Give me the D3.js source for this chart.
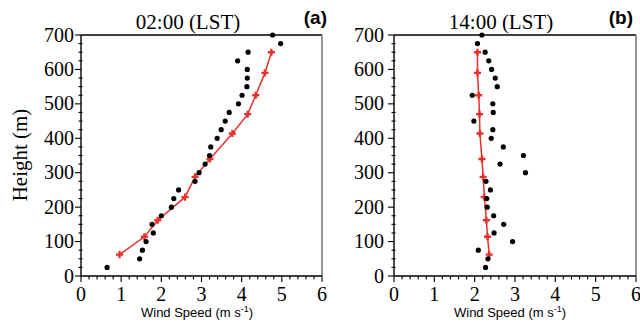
<!DOCTYPE html>
<html>
<head>
<meta charset="utf-8">
<script src="https://cdn.jsdelivr.net/npm/d3@7"></script>
<style>
  body { margin: 0; background: #fff; }
  svg { display: block; }
</style>
</head>
<body>
<div id="chart"></div>
<script>
// observed heights (m), every 25 m
var obsHeights = [25, 50, 75, 100, 125, 150, 175, 200, 225, 250, 275, 300, 325, 350,
	375, 400, 425, 450, 475, 500, 525, 550, 575, 600, 625, 650, 675, 700];
// observed wind speed 02:00
var obsA = [0.65, 1.46, 1.53, 1.62, 1.80, 1.77, 2.00, 2.25, 2.31, 2.43, 2.84, 2.94, 3.09, 3.20,
	3.23, 3.39, 3.49, 3.59, 3.69, 3.92, 4.01, 4.13, 4.14, 4.14, 3.90, 4.16, 4.97, 4.77];
// observed wind speed 14:00
var obsB = [2.27, 2.33, 2.09, 2.94, 2.48, 2.72, 2.47, 2.31, 2.30, 2.39, 2.28, 3.26, 2.63, 3.21,
	2.71, 2.41, 2.45, 1.98, 2.46, 2.45, 1.94, 2.56, 2.51, 2.42, 2.35, 2.26, 2.07, 2.18];

// model levels and simulated speeds
var modelHeights = [62, 114, 162, 229, 288, 340, 414, 470, 525, 590, 650];
var modelA = [0.96, 1.58, 1.91, 2.59, 2.84, 3.21, 3.77, 4.15, 4.35, 4.58, 4.74];
var modelB = [2.36, 2.32, 2.29, 2.24, 2.21, 2.18, 2.13, 2.12, 2.10, 2.07, 2.07];

var xTicks = [0, 1, 2, 3, 4, 5, 6];
var yTicks = [0, 100, 200, 300, 400, 500, 600, 700];

var panels = [
	{title: "02:00 (LST)", tag: "(a)", obs: obsA, model: modelA, left: 81, right: 322, tagX: 327, labelGap: 7},
	{title: "14:00 (LST)", tag: "(b)", obs: obsB, model: modelB, left: 394, right: 636, tagX: 633, labelGap: 10}
];

var plotTop = 35, plotBottom = 276;
var red = "#e8302a";

var svg = d3.select("#chart").append("svg")
	.attr("width", 640)
	.attr("height", 324);

function draw(p, i) {
	var x = d3.scaleLinear().domain([0, 6]).range([p.left, p.right]);
	var y = d3.scaleLinear().domain([0, 700]).range([plotBottom, plotTop]);
	var g = svg.append("g");

	// frame: top black, right grey
	g.append("line").attr("x1", p.left).attr("x2", p.right).attr("y1", plotTop).attr("y2", plotTop)
		.attr("stroke", "#000").attr("stroke-width", 1.4);
	g.append("line").attr("x1", p.right).attr("x2", p.right).attr("y1", plotTop).attr("y2", plotBottom)
		.attr("stroke", "#7a7a7a").attr("stroke-width", 1.6);

	// x axis
	var xAxis = g.append("g").attr("transform", "translate(0," + plotBottom + ")");
	xAxis.append("line").attr("x1", p.left).attr("x2", p.right)
		.attr("stroke", "#000").attr("stroke-width", 1.4);
	xAxis.selectAll(".minor").data(d3.range(0, 6.001, 0.2)).enter().append("line")
		.attr("x1", function(d){return x(d)}).attr("x2", function(d){return x(d)})
		.attr("y1", 0).attr("y2", function(d){return Math.abs(d - Math.round(d)) < 1e-6 ? 6 : 3.5})
		.attr("stroke", "#000").attr("stroke-width", 1.1);
	xAxis.selectAll("text").data(xTicks).enter().append("text")
		.attr("x", function(d){return x(d)}).attr("y", 25)
		.attr("text-anchor", "middle")
		.style("font-family", "'Liberation Serif', 'Times New Roman', serif")
		.style("font-size", "20px")
		.text(function(d){return d});

	// y axis
	var yAxis = g.append("g").attr("transform", "translate(" + p.left + ",0)");
	yAxis.append("line").attr("y1", plotTop).attr("y2", plotBottom)
		.attr("stroke", "#000").attr("stroke-width", 1.4);
	yAxis.selectAll(".minor").data(d3.range(0, 701, 25)).enter().append("line")
		.attr("y1", function(d){return y(d)}).attr("y2", function(d){return y(d)})
		.attr("x1", function(d){return d % 100 === 0 ? -6 : -2.5}).attr("x2", function(d){return d % 100 === 0 ? 0 : 1.5})
		.attr("stroke", "#000").attr("stroke-width", 1.1);
	yAxis.selectAll("text").data(yTicks).enter().append("text")
		.attr("x", -p.labelGap).attr("y", function(d){return y(d) + 6.5})
		.attr("text-anchor", "end")
		.style("font-family", "'Liberation Serif', 'Times New Roman', serif")
		.style("font-size", "20px")
		.text(function(d){return d});

	// titles
	g.append("text").attr("x", p.left + 107).attr("y", 29)
		.attr("text-anchor", "middle")
		.style("font-family", "'Liberation Serif', 'Times New Roman', serif")
		.style("font-size", "21px")
		.text(p.title);
	g.append("text").attr("x", p.tagX).attr("y", 24)
		.attr("text-anchor", "end")
		.style("font-family", "'Liberation Sans', Arial, sans-serif")
		.style("font-weight", "bold")
		.style("font-size", "19px")
		.text(p.tag);

	var xt = g.append("text").attr("x", p.left + 116).attr("y", 317)
		.attr("text-anchor", "middle")
		.style("font-family", "'Liberation Sans', Arial, sans-serif")
		.style("font-size", "13px");
	xt.append("tspan").text("Wind Speed (m s");
	xt.append("tspan").attr("dy", -5).style("font-size", "9px").text("-1");
	xt.append("tspan").attr("dy", 5).text(")");

	// model line
	var pts = modelHeights.map(function(h, k){return {h: h, v: p.model[k]}});
	g.append("path").datum(pts)
		.attr("fill", "none").attr("stroke", red).attr("stroke-width", 1.5)
		.attr("d", d3.line().x(function(d){return x(d.v)}).y(function(d){return y(d.h)}));
	g.selectAll(".plus").data(pts).enter().append("path")
		.attr("transform", function(d){return "translate(" + x(d.v) + "," + y(d.h) + ")"})
		.attr("d", d3.symbol().type(d3.symbolCross).size(28))
		.attr("fill", red);

	// observations
	var obs = obsHeights.map(function(h, k){return {h: h, v: p.obs[k]}});
	g.selectAll(".dot").data(obs).enter().append("circle")
		.attr("cx", function(d){return x(d.v)}).attr("cy", function(d){return y(d.h)})
		.attr("r", 2.6).attr("fill", "#000");
}

panels.forEach(draw);

// shared y label
svg.append("text")
	.attr("transform", "translate(27,155) rotate(-90)")
	.attr("text-anchor", "middle")
	.style("font-family", "'Liberation Serif', 'Times New Roman', serif")
	.style("font-size", "21px")
	.text("Height (m)");
</script>
</body>
</html>
